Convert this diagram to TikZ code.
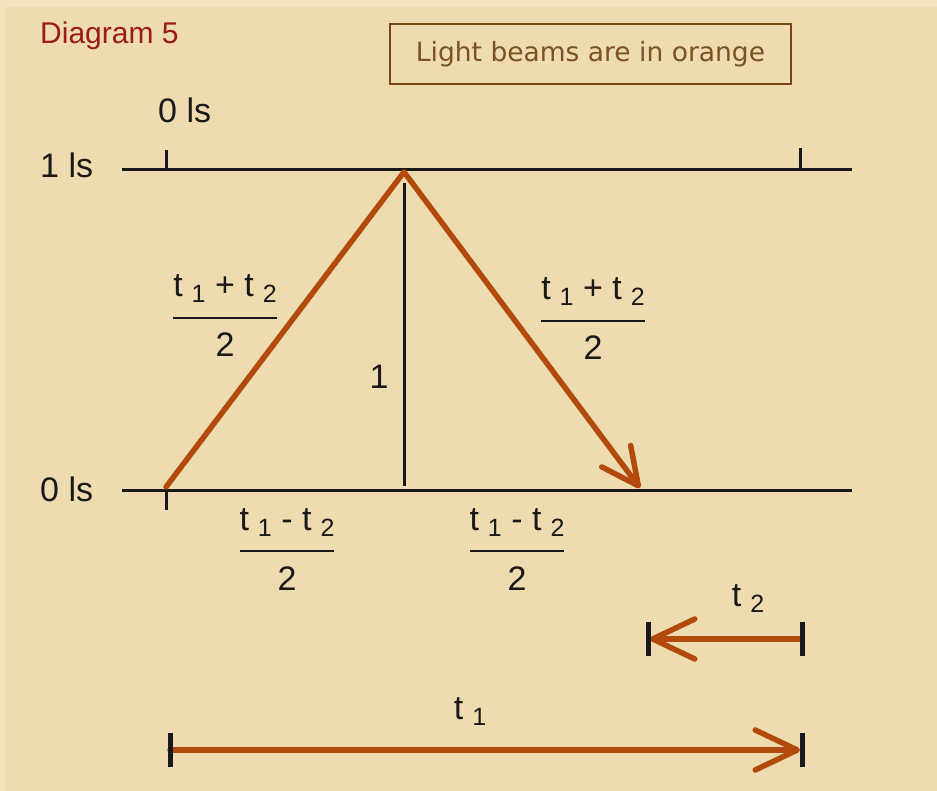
\documentclass[tikz,border=0pt]{standalone}
\usepackage{fontspec}
\setmainfont{Liberation Sans}
\newfontfamily\notefont{DejaVu Sans}
\usetikzlibrary{arrows.meta}
\definecolor{cBg}{HTML}{EEDCB0}
\definecolor{cRim}{HTML}{F2E3BE}
\definecolor{cBeam}{HTML}{B24A0C}
\definecolor{cTitle}{HTML}{9C1A1A}
\definecolor{cNote}{HTML}{7A4511}
\definecolor{cNoteText}{HTML}{7A5124}
\setlength{\arrayrulewidth}{2pt}
\newcommand{\tsub}[1]{t\hspace{9pt}\raisebox{-6pt}{\fontsize{25}{28}\selectfont #1}}
\newcommand{\halves}[1]{\begin{tabular}{@{}c@{}}#1\\[8pt]\hline\rule{0pt}{38pt}2\end{tabular}}

\begin{document}
\begin{tikzpicture}[x=1pt,y=-1pt,
    every node/.style={inner sep=0pt,font=\fontsize{34}{40}\selectfont,text=black!90},
    axis/.style={line width=3pt,black!90},
    endbar/.style={line width=5pt,black!90},
    beam/.style={line width=5.5pt,cBeam,line join=round,line cap=round},
    barb/.style={-{Straight Barb[length=42pt,width=40pt,round]}},
    smallbarb/.style={-{Straight Barb[length=37pt,width=36pt,round]}}]
  \fill[cRim] (0,0) rectangle (937,791);
  \fill[cBg] (5,7) rectangle (937,791);
  \useasboundingbox (0,0) rectangle (937,791);

  % heading and note
  \node[anchor=base west,text=cTitle,font=\fontsize{30}{36}\selectfont] (title) at (40,44) {Diagram 5};
  \node[draw=cNote,line width=2pt,minimum width=401pt,minimum height=60pt,
        text=cNoteText,font=\notefont\fontsize{26.5}{32}\selectfont] (note) at (590.5,54) {Light beams are in orange};

  % time labels
  \node[anchor=base west] (zeroTop) at (158,123) {0 ls};
  \node[anchor=base west] (oneLs) at (40,178) {1 ls};
  \node[anchor=base west] (zeroLs) at (40,501) {0 ls};

  % the two lines
  \coordinate (topL) at (122,170);
  \coordinate (topR) at (852,170);
  \coordinate (botL) at (122,490);
  \coordinate (botR) at (852,490);
  \draw[axis] (topL) -- (topR);
  \draw[axis] (botL) -- (botR);
  \coordinate (tickA) at (166,150);
  \coordinate (tickB) at (800,148);
  \coordinate (tickC) at (166,510);
  \draw[axis] (tickA) -- (tickA |- topL);
  \draw[axis] (tickB) -- (tickB |- topR);
  \draw[axis] (tickC) -- (tickC |- botL);

  % height
  \coordinate (drop) at (404,183);
  \coordinate (foot) at (404,486);
  \draw[axis] (drop) -- (foot);
  \node (unit) at (379,377) {1};

  % light beam
  \coordinate (src) at (166,487);
  \coordinate (apex) at (404,172);
  \coordinate (hit) at (640,488);
  \draw[beam,smallbarb] (src) -- (apex) -- (hit);

  % fractions
  \node (fracUL) at (225,319) {\halves{\tsub{1} + \tsub{2}}};
  \node (fracUR) at (593,322) {\halves{\tsub{1} + \tsub{2}}};
  \node (fracLL) at (287,552) {\halves{\tsub{1} - \tsub{2}}};
  \node (fracLR) at (517,552) {\halves{\tsub{1} - \tsub{2}}};

  % t2 and t1
  \coordinate (t2L) at (648,639);
  \coordinate (t2R) at (802,639);
  \draw[beam,barb] (t2R) -- ([xshift=2pt]t2L);
  \draw[endbar] ([yshift=-17pt]t2L) -- ([yshift=17pt]t2L);
  \draw[endbar] ([yshift=-17pt]t2R) -- ([yshift=17pt]t2R);
  \node (t2lbl) at (748,599) {\tsub{2}};

  \coordinate (t1L) at (170,750);
  \coordinate (t1R) at (802,750);
  \draw[beam,barb] (t1L) -- ([xshift=-2pt]t1R);
  \draw[endbar] ([yshift=-17pt]t1L) -- ([yshift=17pt]t1L);
  \draw[endbar] ([yshift=-17pt]t1R) -- ([yshift=17pt]t1R);
  \node (t1lbl) at (470,712) {\tsub{1}};
\end{tikzpicture}
\end{document}
